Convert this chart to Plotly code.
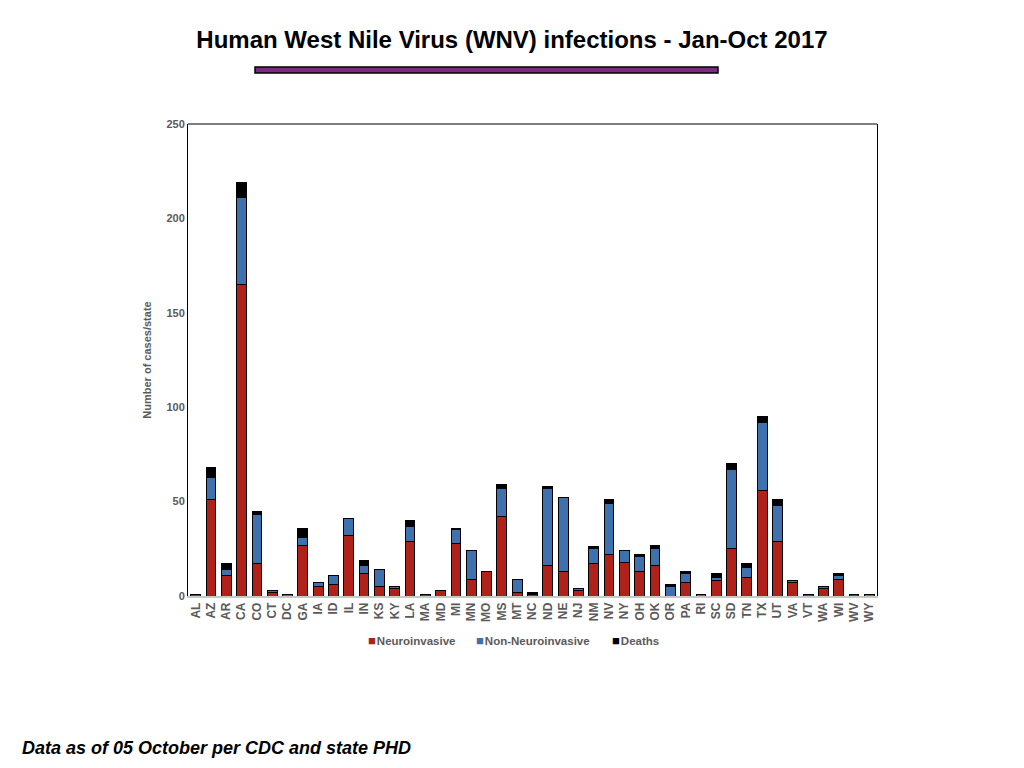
import plotly.graph_objects as go

# States (x categories)
states = ['AL', 'AZ', 'AR', 'CA', 'CO', 'CT', 'DC', 'GA', 'IA', 'ID', 'IL', 'IN', 'KS', 'KY', 'LA',
          'MA', 'MD', 'MI', 'MN', 'MO', 'MS', 'MT', 'NC', 'ND', 'NE', 'NJ', 'NM', 'NV', 'NY', 'OH', 'OK',
          'OR', 'PA', 'RI', 'SC', 'SD', 'TN', 'TX', 'UT', 'VA', 'VT', 'WA', 'WI', 'WV', 'WY']

# Values
neuroinvasive = [1, 51, 11, 165, 17, 2, 0, 27, 5, 6, 32, 12, 5, 4, 29,
                 1, 3, 28, 9, 13, 42, 2, 1, 16, 13, 3, 17, 22, 18, 13, 16,
                 0, 7, 0, 8, 25, 10, 56, 29, 7, 1, 4, 9, 1, 0]
non_neuroinvasive = [0, 12, 3, 46, 26, 1, 1, 4, 2, 5, 9, 4, 9, 1, 8,
                     0, 0, 7, 15, 0, 15, 7, 0, 41, 39, 1, 8, 27, 6, 8, 9,
                     5, 5, 1, 2, 42, 5, 36, 19, 1, 0, 1, 2, 0, 1]
deaths = [0, 5, 3, 8, 2, 0, 0, 5, 0, 0, 0, 3, 0, 0, 3,
          0, 0, 1, 0, 0, 2, 0, 1, 1, 0, 0, 1, 2, 0, 1, 2,
          1, 1, 0, 2, 3, 2, 3, 3, 0, 0, 0, 1, 0, 0]

series = [('Neuroinvasive', neuroinvasive, '#B0211A'),
          ('Non-Neuroinvasive', non_neuroinvasive, '#3F71AE'),
          ('Deaths', deaths, '#000000')]

FONT = 'Liberation Sans, Arial, sans-serif'
grey = '#5a5a5a'

# page is drawn with an 8px body margin, so shift everything up/left by 8px
OFF = 8
L, R, T, B = 188, 877, 124, 596          # plot box on the page
PW, PH = R - L, B - T


def px(x):
    return (x - L) / PW


def py(y):
    return (B - y) / PH


fig = go.Figure()
for name, vals, col in series:
    fig.add_trace(go.Bar(
        name=name,
        x=states,
        y=vals,
        marker=dict(color=col, line=dict(color='black', width=1)),
    ))

fig.update_layout(
    barmode='stack',
    bargap=0.36,
    width=1024,
    height=768,
    paper_bgcolor='white',
    plot_bgcolor='white',
    margin=dict(l=L - OFF, r=1024 - R + OFF, t=T - OFF, b=768 - B + OFF),
    font=dict(family=FONT, color=grey),
    title=dict(
        text='<b>Human West Nile Virus (WNV) infections - Jan-Oct 2017</b>',
        x=(512 - OFF) / 1024, xanchor='center', y=1 - (40 - OFF) / 768, yanchor='middle',
        font=dict(size=24, color='black', family=FONT),
    ),
    showlegend=False,
)

fig.update_yaxes(
    range=[0, 250], dtick=50, showgrid=False,
    showline=True, linecolor='black', linewidth=1, mirror=True,
    ticks='', tickfont=dict(size=11, color=grey, family=FONT),
    title=dict(text='<b>Number of cases/state</b>', font=dict(size=11, color=grey), standoff=12),
    tickprefix='<b>', ticksuffix='</b>',
    zeroline=False,
)
fig.update_xaxes(
    showline=True, linecolor='#c8c8c8', linewidth=1.5,
    tickangle=-90, ticks='', dtick=1, tickmode='linear',
    tickfont=dict(size=12, color=grey, family=FONT),
    tickprefix='<b>', ticksuffix='</b>',
)

# top frame line
fig.add_shape(type='line', xref='paper', yref='paper', x0=0, x1=1, y0=1, y1=1,
              line=dict(color='black', width=1))
# purple bar under title
fig.add_shape(type='rect', xref='paper', yref='paper',
              x0=px(255), x1=px(718), y0=py(73), y1=py(67),
              fillcolor='#7E2A84', line=dict(color='black', width=1.5))

# legend drawn as small squares + labels
legend_items = [(series[0][0], series[0][2], 366),
                (series[1][0], series[1][2], 474),
                (series[2][0], series[2][2], 610)]
for name, col, x0 in legend_items:
    fig.add_annotation(
        text=f'<span style="color:{col};font-size:13px">■</span>&#8202;<b>{name}</b>',
        xref='paper', yref='paper', x=px(x0), y=py(640),
        xanchor='left', yanchor='middle', showarrow=False,
        font=dict(size=11.5, color=grey, family=FONT),
    )

fig.add_annotation(
    text='<b><i>Data as of 05 October per CDC and state PHD</i></b>',
    xref='paper', yref='paper', x=px(20), y=py(748),
    xanchor='left', yanchor='middle', showarrow=False,
    font=dict(size=18, color='black', family=FONT),
)

fig.write_html('out.html')
